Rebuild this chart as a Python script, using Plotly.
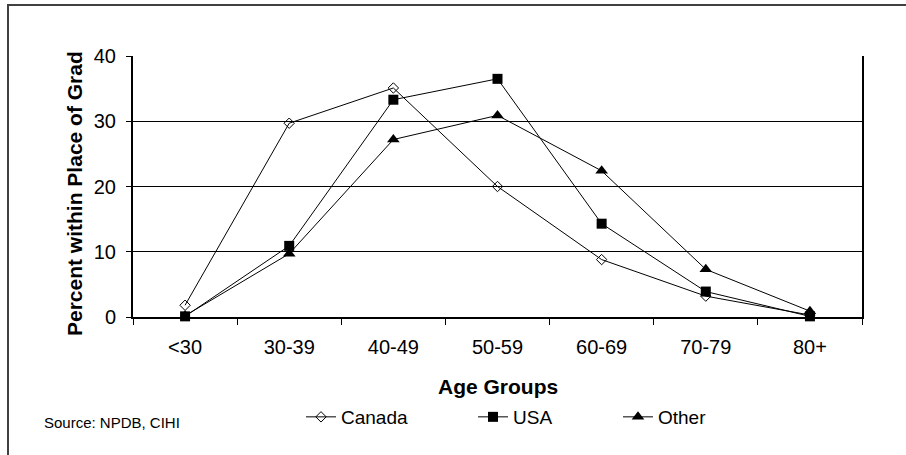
import plotly.graph_objects as go

# Age distribution by place of graduation
age_groups = ["<30", "30-39", "40-49", "50-59", "60-69", "70-79", "80+"]
canada = [1.8, 29.7, 35.1, 20.0, 8.8, 3.2, 0.3]
usa = [0.1, 10.9, 33.3, 36.5, 14.3, 3.9, 0.1]
other = [0.2, 9.7, 27.2, 30.9, 22.4, 7.3, 0.9]

W, H = 906, 455
ML, MR, MT, MB = 133, 44, 56, 138
PW, PH = W - ML - MR, H - MT - MB


def px_x(x):
    return (x - ML) / PW


def px_y(y):
    return (H - MB - y) / PH


FONT = "Liberation Sans, Arial, sans-serif"

fig = go.Figure()
series = [
    ("Canada", canada, dict(symbol="diamond-open", size=8, color="black", line=dict(color="black", width=1)), "legend"),
    ("USA", usa, dict(symbol="square", size=10, color="black"), "legend2"),
    ("Other", other, dict(symbol="triangle-up", size=11, color="black"), "legend3"),
]
for name, vals, marker, lg in series:
    fig.add_trace(go.Scatter(
        x=age_groups, y=vals, name=name, mode="lines+markers",
        line=dict(color="black", width=1), marker=marker, legend=lg,
        showlegend=True, cliponaxis=False,
    ))

legend_common = dict(orientation="h", xanchor="left", yanchor="middle",
                     font=dict(family=FONT, size=19, color="black"),
                     bgcolor="rgba(0,0,0,0)", borderwidth=0, visible=True)

fig.update_layout(
    width=W, height=H,
    showlegend=True,
    margin=dict(l=ML, r=MR, t=MT, b=MB),
    paper_bgcolor="white", plot_bgcolor="white",
    font=dict(family=FONT, color="black"),
    legend=dict(x=px_x(301), y=px_y(417), **legend_common),
    legend2=dict(x=px_x(473), y=px_y(417), **legend_common),
    legend3=dict(x=px_x(618), y=px_y(417), **legend_common),
    xaxis=dict(
        type="category", range=[-0.5, 6.5], tickson="boundaries",
        ticks="outside", ticklen=6, tickwidth=1, tickcolor="black",
        showline=True, linecolor="black", linewidth=2,
        showgrid=False, zeroline=False,
        tickfont=dict(family=FONT, size=20, color="black"),
        ticklabelstandoff=11,
    ),
    yaxis=dict(
        range=[0, 40], dtick=10, ticks="outside", ticklen=5, tickwidth=1,
        tickcolor="black", showline=True, linecolor="black", linewidth=2,
        mirror=True, showgrid=True, gridcolor="black", gridwidth=1.3,
        zeroline=False,
        tickfont=dict(family=FONT, size=20, color="black"),
        ticklabelstandoff=6,
    ),
    annotations=[
        dict(text="<b>Age Groups</b>", xref="paper", yref="paper",
             x=0.5, y=px_y(386), xanchor="center", yanchor="middle",
             showarrow=False, font=dict(family=FONT, size=21, color="black")),
        dict(text="<b>Percent within Place of Grad</b>", xref="paper", yref="paper",
             x=px_x(74), y=px_y(194), xanchor="center", yanchor="middle",
             textangle=-90, showarrow=False,
             font=dict(family=FONT, size=21, color="black")),
        dict(text="Source: NPDB, CIHI", xref="paper", yref="paper",
             x=px_x(42), y=px_y(422), xanchor="left", yanchor="middle",
             showarrow=False, font=dict(family=FONT, size=15, color="black")),
    ],
    shapes=[
        # outer frame (left and top edges visible)
        dict(type="path", xref="paper", yref="paper",
             path=f"M {px_x(8)},{px_y(470)} L {px_x(8)},{px_y(5)} L {px_x(930)},{px_y(5)}",
             line=dict(color="#404040", width=2), layer="above"),
    ],
)

fig.write_html("out.html")
